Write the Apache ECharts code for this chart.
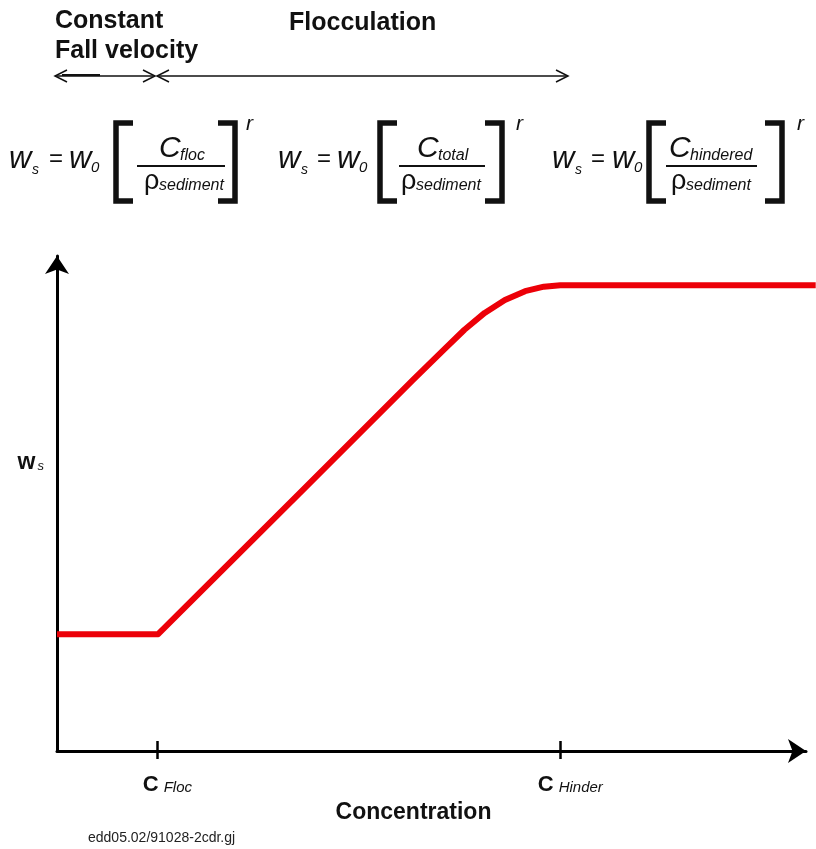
<!DOCTYPE html>
<html><head><meta charset="utf-8">
<script src="https://cdn.jsdelivr.net/npm/echarts@6/dist/echarts.min.js"></script>
<style>html,body{margin:0;padding:0;background:#fff}#c{width:816px;height:849px}</style>
</head><body><div id="c"></div>
<script>
// Concentration (arbitrary units, 0..100 along the axis) and fall velocity ws (0..100)
const concentration = [0, 13.5, 32.4, 47.5, 51.8, 54.4, 57.1, 59.8, 62.5, 65.0, 67.2, 101.3];
const fallVelocity  = [23.6, 23.6, 52.1, 74.9, 81.3, 85.1, 88.5, 91.1, 92.9, 93.8, 94.1, 94.1];
const tickValues = [13.4, 67.2];
const tickLabels = ['Floc', 'Hinder'];
const regionLabels = ['Constant', 'Fall velocity', 'Flocculation'];
const numerators = ['floc', 'total', 'hindered'];
const footer = 'edd05.02/91028-2cdr.gj';

const FONT = '"Liberation Sans", Arial, sans-serif';
const chart = echarts.init(document.getElementById('c'), null, {renderer: 'canvas'});

function txt(x, y, text, size, opts) {
  opts = opts || {};
  return {type: 'text', x: x, y: y, silent: true, style: {
    text: text, fill: opts.fill || '#111',
    font: (opts.italic ? 'italic ' : '') + (opts.bold ? 'bold ' : '') + size + 'px ' + FONT,
    align: opts.align || 'left', verticalAlign: 'middle'
  }};
}
function line(x1, y1, x2, y2, w) {
  return {type: 'line', silent: true, shape: {x1, y1, x2, y2}, style: {stroke: '#111', lineWidth: w || 1.5}};
}
function poly(pts, w) {
  return {type: 'polyline', silent: true, shape: {points: pts}, style: {stroke: '#111', fill: null, lineWidth: w || 1.5, lineJoin: 'miter'}};
}

// equation layout: [wsX, eqX, w0X, bracketL, bracketR, fracL, fracR, cX, rhoX, rX]
const eqLayouts = [
  [9, 49, 69, 116, 235, 137, 225, 159, 144, 246],
  [278, 317, 337, 380, 502, 399, 485, 417, 401, 516],
  [552, 591, 612, 649, 782, 666, 757, 669, 671, 797]
];
const els = [];
eqLayouts.forEach((L, i) => {
  const [wsX, eqX, w0X, bL, bR, fL, fR, cX, rhoX, rX] = L;
  els.push(txt(wsX, 159, 'w', 31, {italic: true}));
  els.push(txt(wsX + 23, 170, 's', 14, {italic: true}));
  els.push(txt(eqX, 159, '=', 24));
  els.push(txt(w0X, 159, 'w', 31, {italic: true}));
  els.push(txt(w0X + 22, 168, '0', 15, {italic: true}));
  els.push(poly([[bL + 17, 123], [bL, 123], [bL, 201], [bL + 17, 201]], 5.5));
  els.push(poly([[bR - 17, 123], [bR, 123], [bR, 201], [bR - 17, 201]], 5.5));
  els.push(line(fL, 166, fR, 166, 2));
  els.push(txt(cX, 149, 'C', 30, {italic: true}));
  els.push(txt(cX + 21, 156, numerators[i], 16, {italic: true}));
  els.push(txt(rhoX, 182, 'ρ', 27));
  els.push(txt(rhoX + 15, 186, 'sediment', 16, {italic: true}));
  els.push(txt(rX, 124, 'r', 21, {italic: true}));
});
// region labels and arrows
els.push(txt(55, 21, regionLabels[0], 25, {bold: true}));
els.push(txt(55, 51, regionLabels[1], 25, {bold: true}));
els.push(txt(289, 23, regionLabels[2], 25, {bold: true}));
els.push(line(55, 76, 155, 76, 1.5));
els.push(line(62, 75, 100, 75, 2));
els.push(poly([[67, 70], [55, 76], [67, 82]], 1.5));
els.push(poly([[143, 70], [155, 76], [143, 82]], 1.5));
els.push(line(157, 76, 568, 76, 1.5));
els.push(poly([[169, 70], [157, 76], [169, 82]], 1.5));
els.push(poly([[556, 70], [568, 76], [556, 82]], 1.5));
// footer
els.push(txt(88, 838, footer, 14, {fill: '#222'}));

const data = concentration.map((c, i) => [c, fallVelocity[i]]);

chart.setOption({
  animation: false,
  backgroundColor: '#fff',
  grid: [
    {left: 57, right: 10, top: 256, bottom: 98, containLabel: false, outerBoundsMode: 'none'},
    {left: 57, right: 0, top: 256, bottom: 98, containLabel: false, outerBoundsMode: 'none'}
  ],
  xAxis: [{
    gridIndex: 0, type: 'value', min: 0, max: 100,
    splitLine: {show: false},
    axisLine: {show: true, symbol: ['none', 'arrow'], symbolSize: [18, 18], lineStyle: {color: '#000', width: 3}},
    axisTick: {show: true, customValues: tickValues, length: 8, lineStyle: {color: '#000', width: 2.5}},
    axisLabel: {
      show: true, customValues: tickValues, margin: 23,
      formatter: v => {
        let k = 0, d = Infinity;
        tickValues.forEach((t, i) => { if (Math.abs(t - v) < d) { d = Math.abs(t - v); k = i; } });
        return '{g|}{c|C}{s|' + tickLabels[k] + '}';
      },
      rich: {
        g: {width: 20},
        c: {fontFamily: FONT, fontWeight: 'bold', fontSize: 22, color: '#111', padding: [0, 5, 0, 0]},
        s: {fontFamily: FONT, fontStyle: 'italic', fontSize: 15, color: '#111', padding: [6, 0, 0, 0]}
      }
    },
    name: 'Concentration', nameLocation: 'middle', nameGap: 49,
    nameTextStyle: {fontFamily: FONT, fontWeight: 'bold', fontSize: 23, color: '#111', padding: [0, 36, 0, 0]}
  }, {
    gridIndex: 0, type: 'value', min: 0, max: 100, position: 'bottom',
    splitLine: {show: false},
    axisLine: {show: false},
    axisTick: {show: true, inside: true, customValues: tickValues, length: 10, lineStyle: {color: '#000', width: 2.5}},
    axisLabel: {show: false}
  }, {
    gridIndex: 1, type: 'value', min: 0, max: 101.34, show: false
  }],
  yAxis: [{
    gridIndex: 0, type: 'value', min: 0, max: 100,
    splitLine: {show: false},
    axisLine: {show: true, symbol: ['none', 'arrow'], symbolSize: [18, 18], lineStyle: {color: '#000', width: 3}},
    axisTick: {show: false},
    axisLabel: {show: false},
    name: '{w|w}{s|s}', nameLocation: 'middle', nameRotate: 0, nameGap: 13,
    nameTextStyle: {
      padding: [0, 0, 82, 0],
      rich: {
        w: {fontFamily: FONT, fontWeight: 'bold', fontSize: 23, color: '#111'},
        s: {fontFamily: FONT, fontStyle: 'italic', fontSize: 13, color: '#111', padding: [8, 0, 0, 2]}
      }
    }
  }, {
    gridIndex: 1, type: 'value', min: 0, max: 100, show: false
  }],
  series: [{
    type: 'line', xAxisIndex: 2, yAxisIndex: 1,
    data: data, showSymbol: false, clip: false, smooth: false,
    lineStyle: {color: '#ec0008', width: 6, join: 'round'}
  }],
  graphic: {elements: els}
});
</script>
</body></html>
